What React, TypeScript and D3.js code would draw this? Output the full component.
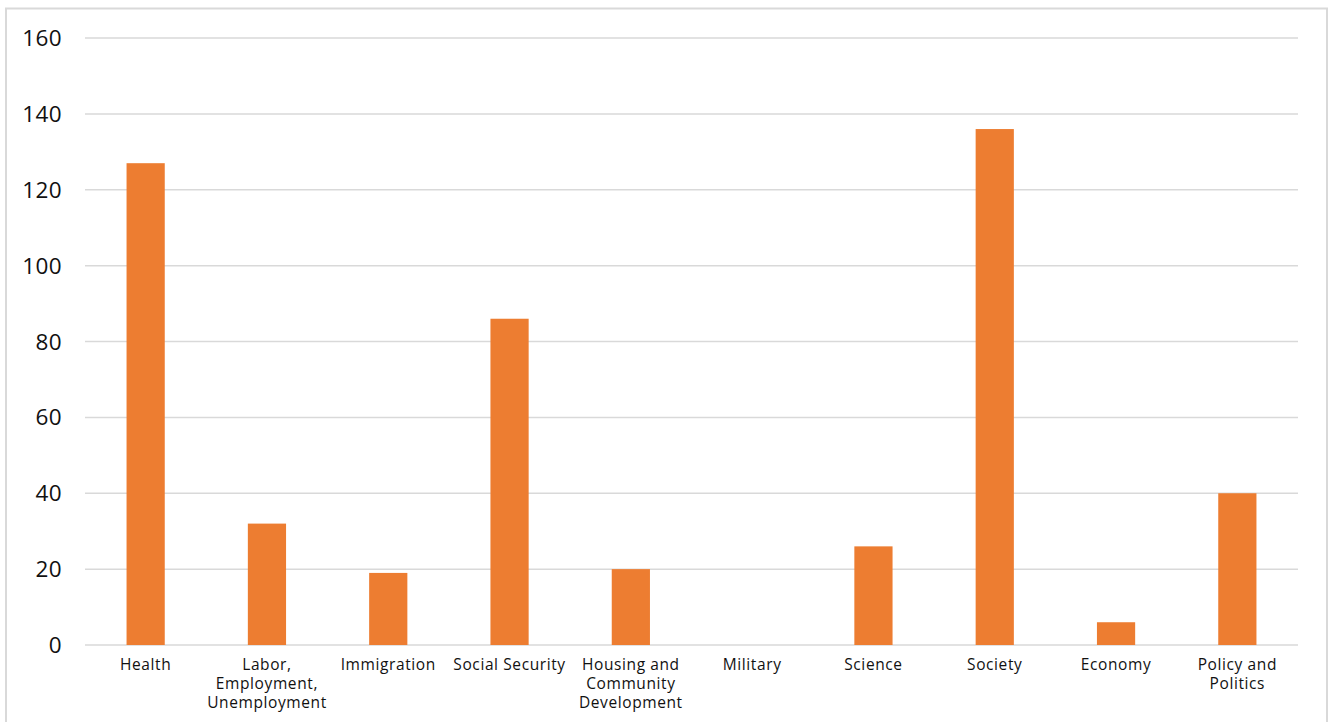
import React from "react";
import * as d3 from "d3";

const categories: string[][] = [
  ["Health"],
  ["Labor,", "Employment,", "Unemployment"],
  ["Immigration"],
  ["Social Security"],
  ["Housing and", "Community", "Development"],
  ["Military"],
  ["Science"],
  ["Society"],
  ["Economy"],
  ["Policy and", "Politics"],
];
const values: number[] = [127, 32, 19, 86, 20, 0, 26, 136, 6, 40];
const yTicks: number[] = [0, 20, 40, 60, 80, 100, 120, 140, 160];

const W = 1330;
const H = 722;
const left = 85;
const right = 1298;
const top = 38;
const bottom = 645;
const FONT = "'Open Sans', 'Noto Sans', sans-serif";

export default function App() {
  const keys = categories.map((c) => c.join(" "));
  const x = d3.scaleBand<string>().domain(keys).range([left, right]).paddingInner(0.685).paddingOuter(0.3425);
  const y = d3.scaleLinear().domain([0, 160]).range([bottom, top]);

  return (
    <div style={{ position: "fixed", left: 0, top: 0, width: W, height: H, background: "#fff" }}>
      <svg width={W} height={H} style={{ display: "block" }}>
        <rect x={6} y={8.5} width={1321} height={730} fill="#fff" stroke="#d9d9d9" strokeWidth={2} />
        {yTicks.map((t) => (
          <g key={t}>
            <line x1={left} x2={right} y1={y(t)} y2={y(t)} stroke="#d9d9d9" strokeWidth={1.5} />
            <text x={62} y={y(t)} dy="0.36em" textAnchor="end" fontFamily={FONT} fontSize={22.5} letterSpacing={0.4} fill="#111">
              {t}
            </text>
          </g>
        ))}
        {values.map((v, i) => (
          <rect
            key={keys[i]}
            x={x(keys[i])}
            width={x.bandwidth()}
            y={y(v)}
            height={y(0) - y(v)}
            fill="#ED7D31"
          />
        ))}
        {categories.map((lines, i) => (
          <text
            key={keys[i]}
            x={(x(keys[i]) as number) + x.bandwidth() / 2}
            y={670}
            textAnchor="middle"
            fontFamily={FONT}
            fontSize={15.5}
            letterSpacing={0.6}
            fill="#111"
          >
            {lines.map((l, j) => (
              <tspan key={j} x={(x(keys[i]) as number) + x.bandwidth() / 2} dy={j === 0 ? 0 : 19}>
                {l}
              </tspan>
            ))}
          </text>
        ))}
      </svg>
    </div>
  );
}
